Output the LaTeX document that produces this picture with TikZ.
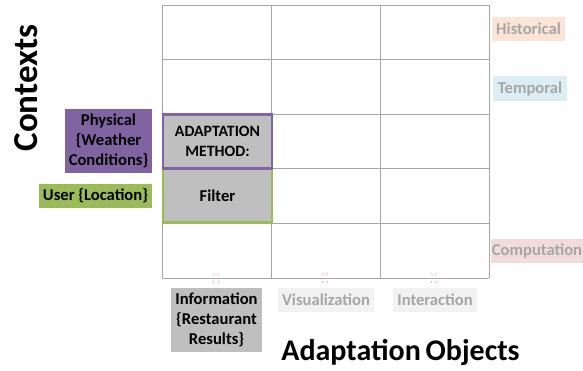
\documentclass[tikz,border=0pt]{standalone}
\usepackage{fontspec}
\setmainfont{Carlito}
\definecolor{gridc}{HTML}{A6A6A6}
\definecolor{purp}{HTML}{8064A2}
\definecolor{grn}{HTML}{9BBB59}
\definecolor{cellg}{HTML}{BFBFBF}
\definecolor{histc}{HTML}{FCE4D6}
\definecolor{tempc}{HTML}{DAEEF3}
\definecolor{compc}{HTML}{F2DCDB}
\definecolor{lightg}{HTML}{F2F2F2}
\definecolor{fadetxt}{HTML}{A6A6A6}
\definecolor{markc}{HTML}{F4B8B8}
\begin{document}
\begin{tikzpicture}[x=1pt,y=-1pt,
  lbl/.style={font=\fontsize{16.6}{20}\selectfont\bfseries, align=center, inner sep=0pt},
  box/.style={inner sep=0pt, outer sep=0pt},
  fadebox/.style={box, text=fadetxt, font=\fontsize{16.6}{20}\selectfont\bfseries},
  tickmark/.style={markc, line width=0.6pt}
]
\useasboundingbox (0,0) rectangle (583,370);
% grid
\foreach \x in {162,271,380,489} \draw[gridc, line width=0.9pt] (\x,5) -- (\x,278);
\foreach \y in {5,59,114,168,223,278} \draw[gridc, line width=0.9pt] (162,\y) -- (489,\y);
% highlighted cells
\node[box, fill=cellg, draw=grn, line width=2.2pt, minimum width=109pt, minimum height=54pt, anchor=north west] (filter) at (163,168.5) {};
\node[lbl] at (filter.center) {Filter};
\node[box, fill=cellg, draw=purp, line width=2.2pt, minimum width=109pt, minimum height=54pt, anchor=north west] (method) at (163,114.5) {};
\node[lbl, font=\fontsize{15.8}{19.5}\selectfont\bfseries] at (method.center) {ADAPTATION\\METHOD:};
% context labels (left)
\node[box, fill=purp, minimum width=87pt, minimum height=64pt] (phys) at (108.5,141) {};
\node[lbl] at (phys.center) {Physical\\\{Weather\\Conditions\}};
\node[box, fill=grn, minimum width=113pt, minimum height=24pt] (user) at (95.5,196) {};
\node[lbl] at (user.center) {User \{Location\}};
% context labels (right)
\node[fadebox, fill=histc, minimum width=73pt, minimum height=24pt] (hist) at (528.5,29) {Historical};
\node[fadebox, fill=tempc, minimum width=74pt, minimum height=25pt] (temp) at (530,88.5) {Temporal};
\node[fadebox, fill=compc, minimum width=92pt, minimum height=24pt, anchor=west] (comp) at (491,251) {Computation};
% objects
\node[box, fill=cellg, minimum width=91pt, minimum height=64pt] (info) at (216.5,320) {};
\node[lbl] at (info.center) {Information\\\{Restaurant\\Results\}};
\node[fadebox, fill=lightg, minimum width=96pt, minimum height=24pt] (vis) at (326,300) {Visualization};
\node[fadebox, fill=lightg, minimum width=84pt, minimum height=24pt] (inter) at (435,300) {Interaction};
% small marks
\foreach \x in {216,325,434} {
  \draw[tickmark] (\x-3,273) -- (\x-1,275.5);
  \draw[tickmark] (\x+3,273) -- (\x+1,275.5);
  \draw[tickmark] (\x-2.5,281) -- (\x-2.5,282.5);
  \draw[tickmark] (\x+2.5,281) -- (\x+2.5,282.5);
}
% titles
\node[font=\fontsize{35}{35}\selectfont\bfseries, rotate=90, inner sep=0pt] (ctx) at (26,88) {Contexts};
\node[font=\fontsize{30}{30}\selectfont\bfseries, inner sep=0pt] (ao) at (400.5,352) {Adaptation\kern-2pt\ Objects};
\end{tikzpicture}
\end{document}
